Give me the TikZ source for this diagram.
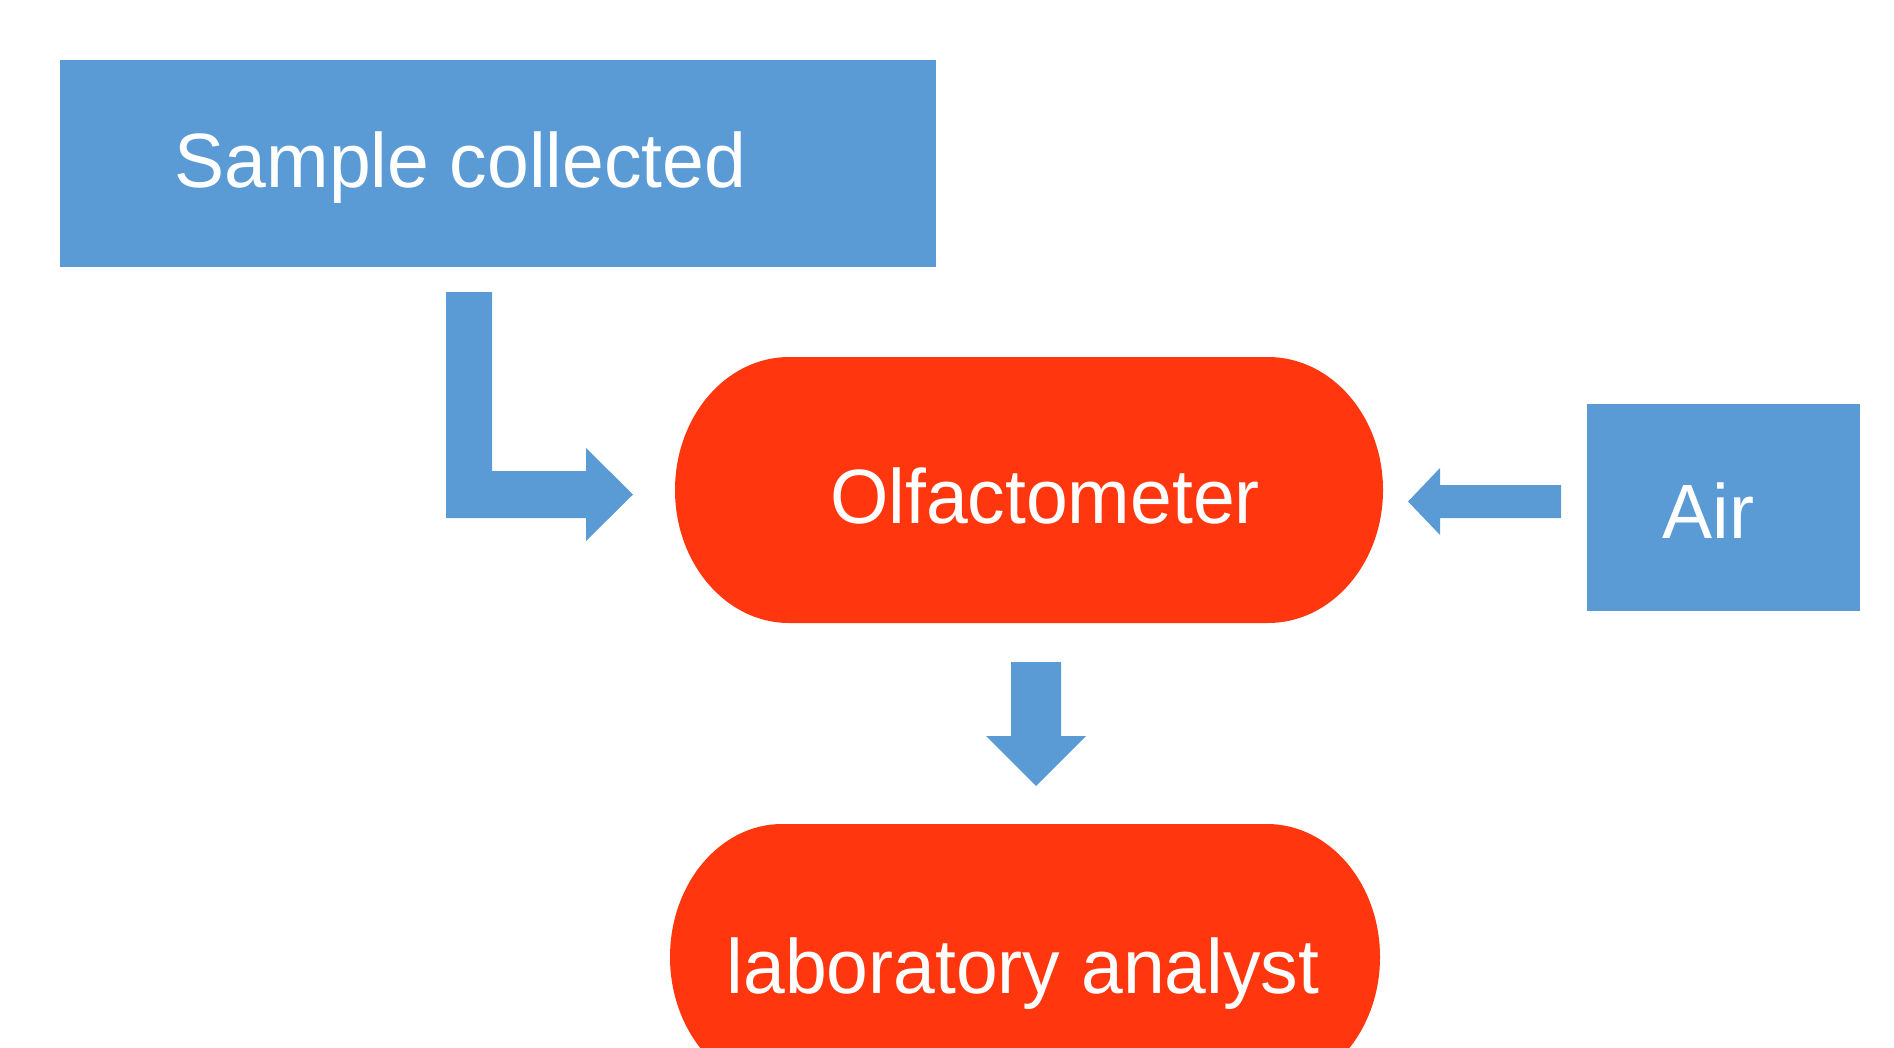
\documentclass[tikz,border=0pt]{standalone}
\usepackage{fontspec}
\setmainfont{Liberation Sans}[FakeStretch=0.975]
\definecolor{boxblue}{RGB}{91,155,213}
\definecolor{pillred}{RGB}{255,54,14}
\begin{document}
\begin{tikzpicture}[x=1pt,y=-1pt,
  bluebox/.style={fill=boxblue,draw=none,inner sep=0pt,outer sep=0pt},
  lbl/.style={text=white,inner sep=0pt,font=\fontsize{77}{82}\selectfont},
  blockarrow/.style={fill=boxblue,draw=none}]
\useasboundingbox (0,0) rectangle (1894,1047);
\clip (0,0) rectangle (1894,1047);
% boxes
\node[bluebox,minimum width=876pt,minimum height=207pt] (sample) at (498,163.5) {};
\node[lbl,anchor=base] (sampletext) at (460.5,187) {Sample collected};
\node[bluebox,minimum width=273pt,minimum height=207pt] (air) at (1723.5,507.5) {};
\node[lbl,anchor=base] (airtext) at (1708.5,538) {Air};
% stadium shapes
\fill[pillred] (789,357) -- (1268,357)
  arc[start angle=-90,end angle=90,x radius=115,y radius=133]
  -- (789,623)
  arc[start angle=90,end angle=270,x radius=114,y radius=133] -- cycle;
\coordinate (olf) at (1029,490);
\node[lbl,anchor=base] (olftext) at (1045,523) {Olfactometer};
\fill[pillred] (782,824) -- (1267,824)
  arc[start angle=-90,end angle=90,x radius=113,y radius=133]
  -- (782,1090)
  arc[start angle=90,end angle=270,x radius=112,y radius=133] -- cycle;
\coordinate (lab) at (1025,957);
\node[lbl,anchor=base] (labtext) at (1023,993) {laboratory analyst};
% block arrows
\fill[blockarrow] (446,292) -- (492,292) -- (492,471) -- (586,471) -- (586,448)
  -- (633,494.5) -- (586,541) -- (586,518) -- (446,518) -- cycle;
\fill[blockarrow] (1408,501.5) -- (1440,468) -- (1440,485) -- (1561,485)
  -- (1561,518) -- (1440,518) -- (1440,535) -- cycle;
\fill[blockarrow] (1011,662) -- (1061,662) -- (1061,736) -- (1086,736)
  -- (1036,786) -- (986,736) -- (1011,736) -- cycle;
\end{tikzpicture}
\end{document}
